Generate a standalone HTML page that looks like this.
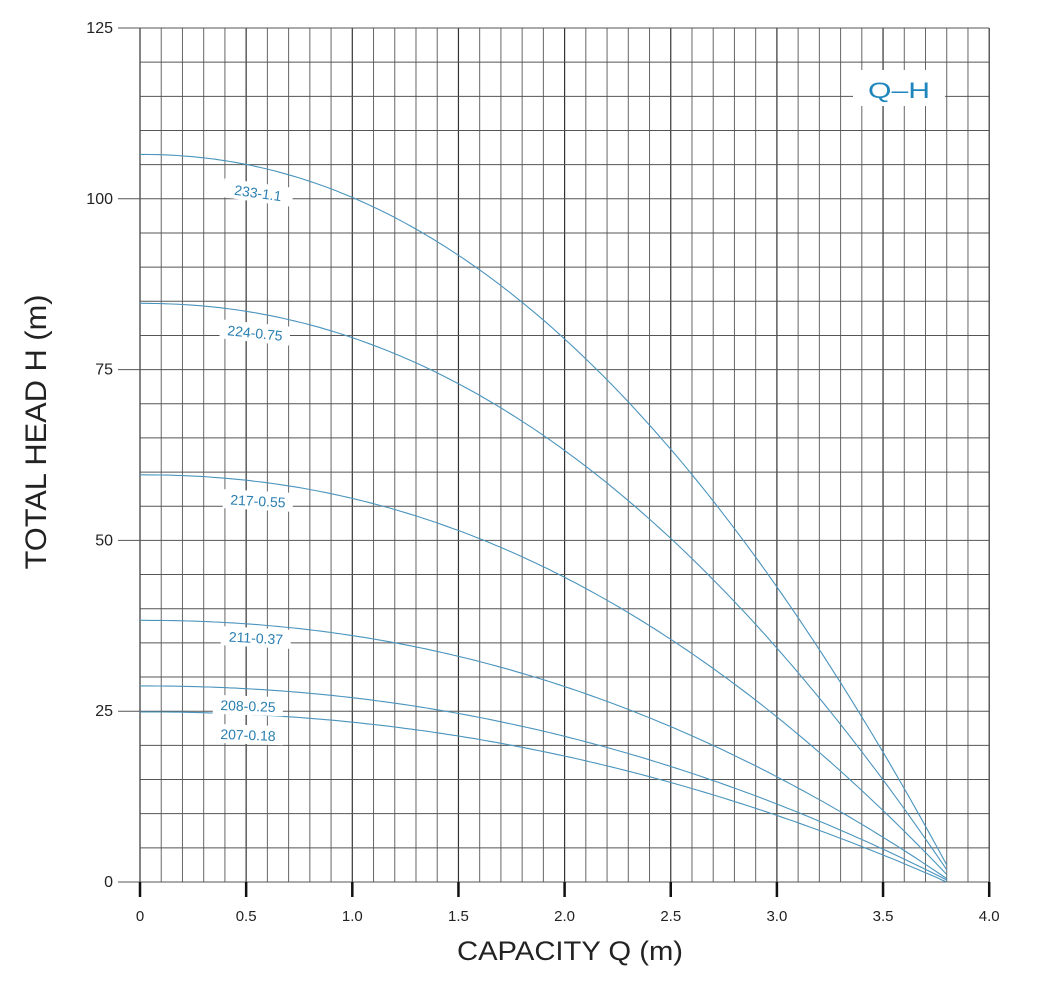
<!DOCTYPE html>
<html><head><meta charset="utf-8"><style>
html,body{margin:0;padding:0;background:#fff;}
svg{display:block;font-family:"Liberation Sans",sans-serif;}
</style></head><body>
<svg id="s" width="1040" height="984" viewBox="0 0 1040 984" xmlns="http://www.w3.org/2000/svg">
<g id="grid"></g>
<g id="curves" fill="none" stroke="#4a94bd" stroke-width="1.1"></g>
<g id="labels"></g>
<rect x="853" y="70" width="92" height="36" fill="#fff"/>
<text x="899" y="98" font-size="22" fill="#1f86bd" text-anchor="middle" textLength="62" lengthAdjust="spacingAndGlyphs">Q–H</text>
<text x="570" y="960" font-size="27" fill="#222" text-anchor="middle" textLength="226" lengthAdjust="spacingAndGlyphs">CAPACITY Q (m)</text>
<text transform="translate(46,432) rotate(-90)" font-size="30" fill="#222" text-anchor="middle" textLength="275" lengthAdjust="spacingAndGlyphs">TOTAL HEAD H (m)</text>
</svg>
<script>
const NS="http://www.w3.org/2000/svg";
const X=q=>140+q*212.3, Y=h=>882-h*6.832;
function el(p,t,a,txt){const e=document.createElementNS(NS,t);for(const k in a)e.setAttribute(k,a[k]);if(txt!=null)e.textContent=txt;p.appendChild(e);return e;}
const g=document.getElementById('grid');
for(let i=1;i<=40;i++){const x=X(i/10);el(g,'line',{x1:x,y1:28,x2:x,y2:882,stroke:i%5==0?'#333':'#666','stroke-width':i%5==0?1.2:1});}
el(g,'line',{x1:140,y1:28,x2:140,y2:882,stroke:'#333','stroke-width':1.2});
for(let j=0;j<=25;j++){const y=Y(j*5);const maj=j%5==0;el(g,'line',{x1:maj?118:140,y1:y,x2:989,y2:y,stroke:'#555','stroke-width':1});
 if(maj)el(g,'text',{x:113,y:y+5,'font-size':16,fill:'#222','text-anchor':'end'},String(j*5));}
for(let k=0;k<=8;k++){const x=X(k/2);el(g,'line',{x1:x,y1:882,x2:x,y2:897,stroke:'#111','stroke-width':2.5});
 el(g,'text',{x:x,y:921,'font-size':15,fill:'#222','text-anchor':'middle'},(k/2).toFixed(k==0?0:1));}
const cur=[[106.5,2.5,2.1],[84.7,1.8,2.1],[59.6,1.1,2.12],[38.3,0.5,2.12],[28.7,0.3,2.1],[24.9,0,2.1]];
const c=document.getElementById('curves');
cur.forEach(([h0,he,n])=>{let s='';for(let i=0;i<=152;i++){const q=i*0.025;const h=he+(h0-he)*(1-Math.pow(q/3.8,n));s+=(i?'L':'M')+X(q).toFixed(1)+','+Y(h).toFixed(1);}
 el(c,'path',{d:s});});
const L=[["233-1.1",258,193,8],["224-0.75",255,333,6],["217-0.55",258,501,3],["211-0.37",256,638,3],["208-0.25",248,706,2],["207-0.18",248,735,2]];
const lg=document.getElementById('labels');
L.forEach(([t,x,y,r])=>{const gg=el(lg,'g',{transform:`translate(${x},${y}) rotate(${r})`});
 el(gg,'rect',{x:-35,y:-10,width:70,height:19,fill:'#fff'});
 el(gg,'text',{x:0,y:5,'font-size':14,fill:'#2a7fb0','text-anchor':'middle'},t);});
</script>
</body></html>
